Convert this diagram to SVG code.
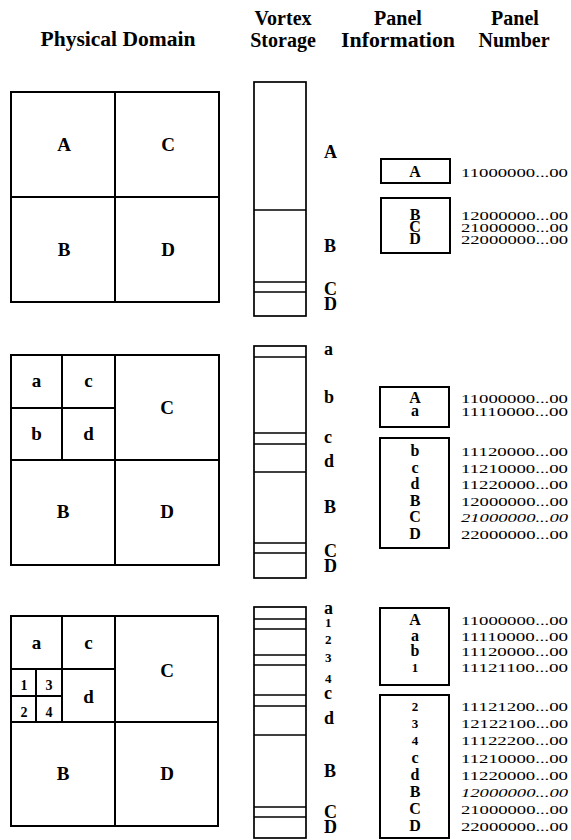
<svg xmlns="http://www.w3.org/2000/svg" width="571" height="840" viewBox="0 0 571 840">
<style>
.ln{fill:none;stroke:#000;stroke-width:2}
.cl{fill:none;stroke:#000;stroke-width:1.7}
text{font-family:"Liberation Serif","Times New Roman",serif;fill:#000}
.h{font-weight:bold;font-size:20px;text-anchor:middle}
.L{font-weight:bold;font-size:19px;text-anchor:middle}
.s{font-weight:bold;font-size:14px;text-anchor:middle}
.v{font-weight:bold;font-size:18px}
.vs{font-weight:bold;font-size:13px}
.p{font-weight:bold;font-size:16px;text-anchor:middle}
.ps{font-weight:bold;font-size:13px;text-anchor:middle}
.n{font-size:12.5px}
.i{font-style:italic}
</style>
<rect width="571" height="840" fill="#fff"/>

<g id="header">
<text class="h" x="118" y="46" textLength="155" lengthAdjust="spacingAndGlyphs">Physical Domain</text>
<text class="h" x="283" y="25">Vortex</text>
<text class="h" x="283" y="47">Storage</text>
<text class="h" x="398" y="25">Panel</text>
<text class="h" x="398" y="47" textLength="114" lengthAdjust="spacingAndGlyphs">Information</text>
<text class="h" x="515" y="25">Panel</text>
<text class="h" x="514" y="47">Number</text>
</g>

<!-- Section 1 -->
<g id="domain1">
<rect class="ln" x="11" y="92" width="208" height="210"/>
<line class="ln" x1="115" y1="92" x2="115" y2="302"/>
<line class="ln" x1="11" y1="197" x2="219" y2="197"/>
<text class="L" x="64" y="151">A</text>
<text class="L" x="168" y="151">C</text>
<text class="L" x="64" y="256">B</text>
<text class="L" x="168" y="256">D</text>
</g>
<g id="storage1">
<rect class="cl" x="254" y="82" width="52" height="234"/>
<line class="cl" x1="254" y1="210" x2="306" y2="210"/>
<line class="cl" x1="254" y1="282" x2="306" y2="282"/>
<line class="cl" x1="254" y1="292" x2="306" y2="292"/>
<text class="v" x="324" y="158">A</text>
<text class="v" x="324" y="252">B</text>
<text class="v" x="324" y="295">C</text>
<text class="v" x="324" y="310">D</text>
</g>
<g id="panel1a">
<rect class="ln" x="381" y="159" width="69" height="24"/>
<text class="p" x="415" y="177">A</text>
</g>
<g id="panel1b">
<rect class="ln" x="381" y="198" width="69" height="55"/>
<text class="p" x="415" y="220">B</text>
<text class="p" x="415" y="232">C</text>
<text class="p" x="415" y="244">D</text>
</g>
<g id="numbers1">
<text class="n" x="461" y="177" textLength="107" lengthAdjust="spacingAndGlyphs">11000000...00</text>
<text class="n" x="461" y="220" textLength="107" lengthAdjust="spacingAndGlyphs">12000000...00</text>
<text class="n" x="461" y="232" textLength="107" lengthAdjust="spacingAndGlyphs">21000000...00</text>
<text class="n" x="461" y="244" textLength="107" lengthAdjust="spacingAndGlyphs">22000000...00</text>
</g>

<!-- Section 2 -->
<g id="domain2">
<rect class="ln" x="11" y="355" width="208" height="210"/>
<line class="ln" x1="115" y1="355" x2="115" y2="565"/>
<line class="ln" x1="11" y1="460" x2="219" y2="460"/>
<line class="ln" x1="62" y1="355" x2="62" y2="460"/>
<line class="ln" x1="11" y1="408" x2="115" y2="408"/>
<text class="L" x="36.5" y="387">a</text>
<text class="L" x="88.5" y="387">c</text>
<text class="L" x="36.5" y="440">b</text>
<text class="L" x="88.5" y="440">d</text>
<text class="L" x="167" y="414">C</text>
<text class="L" x="63" y="518">B</text>
<text class="L" x="167" y="518">D</text>
</g>
<g id="storage2">
<rect class="cl" x="254" y="346" width="52" height="232"/>
<line class="cl" x1="254" y1="357" x2="306" y2="357"/>
<line class="cl" x1="254" y1="433" x2="306" y2="433"/>
<line class="cl" x1="254" y1="444" x2="306" y2="444"/>
<line class="cl" x1="254" y1="472" x2="306" y2="472"/>
<line class="cl" x1="254" y1="543" x2="306" y2="543"/>
<line class="cl" x1="254" y1="553" x2="306" y2="553"/>
<text class="v" x="324" y="355">a</text>
<text class="v" x="324" y="403">b</text>
<text class="v" x="324" y="443">c</text>
<text class="v" x="324" y="467">d</text>
<text class="v" x="324" y="513">B</text>
<text class="v" x="324" y="557">C</text>
<text class="v" x="324" y="572">D</text>
</g>
<g id="panel2a">
<rect class="ln" x="380" y="387" width="69" height="40"/>
<text class="p" x="415" y="403">A</text>
<text class="p" x="415" y="416">a</text>
</g>
<g id="panel2b">
<rect class="ln" x="380" y="438" width="69" height="110"/>
<text class="p" x="415" y="456">b</text>
<text class="p" x="415" y="472.5">c</text>
<text class="p" x="415" y="489">d</text>
<text class="p" x="415" y="505.5">B</text>
<text class="p" x="415" y="522">C</text>
<text class="p" x="415" y="538.5">D</text>
</g>
<g id="numbers2">
<text class="n" x="461" y="403" textLength="107" lengthAdjust="spacingAndGlyphs">11000000...00</text>
<text class="n" x="461" y="416" textLength="107" lengthAdjust="spacingAndGlyphs">11110000...00</text>
<text class="n" x="461" y="456" textLength="107" lengthAdjust="spacingAndGlyphs">11120000...00</text>
<text class="n" x="461" y="472.5" textLength="107" lengthAdjust="spacingAndGlyphs">11210000...00</text>
<text class="n" x="461" y="489" textLength="107" lengthAdjust="spacingAndGlyphs">11220000...00</text>
<text class="n" x="461" y="505.5" textLength="107" lengthAdjust="spacingAndGlyphs">12000000...00</text>
<text class="n i" x="461" y="522" textLength="107" lengthAdjust="spacingAndGlyphs">21000000...00</text>
<text class="n" x="461" y="538.5" textLength="107" lengthAdjust="spacingAndGlyphs">22000000...00</text>
</g>

<!-- Section 3 -->
<g id="domain3">
<rect class="ln" x="11" y="616" width="207" height="210"/>
<line class="ln" x1="115" y1="616" x2="115" y2="826"/>
<line class="ln" x1="11" y1="722" x2="218" y2="722"/>
<line class="ln" x1="62" y1="616" x2="62" y2="722"/>
<line class="ln" x1="11" y1="669" x2="115" y2="669"/>
<line class="ln" x1="36" y1="669" x2="36" y2="722"/>
<line class="ln" x1="11" y1="696" x2="62" y2="696"/>
<text class="L" x="36.5" y="649">a</text>
<text class="L" x="88.5" y="649">c</text>
<text class="L" x="167" y="677">C</text>
<text class="L" x="88.5" y="703">d</text>
<text class="s" x="24" y="690">1</text>
<text class="s" x="49" y="690">3</text>
<text class="s" x="24" y="717">2</text>
<text class="s" x="49" y="717">4</text>
<text class="L" x="63" y="780">B</text>
<text class="L" x="167" y="780">D</text>
</g>
<g id="storage3">
<rect class="cl" x="254" y="607" width="52" height="231"/>
<line class="cl" x1="254" y1="619" x2="306" y2="619"/>
<line class="cl" x1="254" y1="629" x2="306" y2="629"/>
<line class="cl" x1="254" y1="655" x2="306" y2="655"/>
<line class="cl" x1="254" y1="665" x2="306" y2="665"/>
<line class="cl" x1="254" y1="695" x2="306" y2="695"/>
<line class="cl" x1="254" y1="706" x2="306" y2="706"/>
<line class="cl" x1="254" y1="735" x2="306" y2="735"/>
<line class="cl" x1="254" y1="807" x2="306" y2="807"/>
<line class="cl" x1="254" y1="817" x2="306" y2="817"/>
<text class="v" x="324" y="614">a</text>
<text class="vs" x="325" y="627">1</text>
<text class="vs" x="325" y="644">2</text>
<text class="vs" x="325" y="662">3</text>
<text class="vs" x="325" y="683">4</text>
<text class="v" x="324" y="699">c</text>
<text class="v" x="324" y="724">d</text>
<text class="v" x="324" y="777">B</text>
<text class="v" x="324" y="818">C</text>
<text class="v" x="324" y="833">D</text>
</g>
<g id="panel3a">
<rect class="ln" x="380" y="608" width="69" height="77"/>
<text class="p" x="415" y="625">A</text>
<text class="p" x="415" y="640.5">a</text>
<text class="p" x="415" y="656">b</text>
<text class="ps" x="415" y="671.5">1</text>
</g>
<g id="panel3b">
<rect class="ln" x="380" y="695" width="69" height="143"/>
<text class="ps" x="415" y="711">2</text>
<text class="ps" x="415" y="728">3</text>
<text class="ps" x="415" y="745">4</text>
<text class="p" x="415" y="763">c</text>
<text class="p" x="415" y="780">d</text>
<text class="p" x="415" y="797">B</text>
<text class="p" x="415" y="814">C</text>
<text class="p" x="415" y="831">D</text>
</g>
<g id="numbers3">
<text class="n" x="461" y="625" textLength="107" lengthAdjust="spacingAndGlyphs">11000000...00</text>
<text class="n" x="461" y="640.5" textLength="107" lengthAdjust="spacingAndGlyphs">11110000...00</text>
<text class="n" x="461" y="656" textLength="107" lengthAdjust="spacingAndGlyphs">11120000...00</text>
<text class="n" x="461" y="671.5" textLength="107" lengthAdjust="spacingAndGlyphs">11121100...00</text>
<text class="n" x="461" y="711" textLength="107" lengthAdjust="spacingAndGlyphs">11121200...00</text>
<text class="n" x="461" y="728" textLength="107" lengthAdjust="spacingAndGlyphs">12122100...00</text>
<text class="n" x="461" y="745" textLength="107" lengthAdjust="spacingAndGlyphs">11122200...00</text>
<text class="n" x="461" y="763" textLength="107" lengthAdjust="spacingAndGlyphs">11210000...00</text>
<text class="n" x="461" y="780" textLength="107" lengthAdjust="spacingAndGlyphs">11220000...00</text>
<text class="n i" x="461" y="797" textLength="107" lengthAdjust="spacingAndGlyphs">12000000...00</text>
<text class="n" x="461" y="814" textLength="107" lengthAdjust="spacingAndGlyphs">21000000...00</text>
<text class="n" x="461" y="831" textLength="107" lengthAdjust="spacingAndGlyphs">22000000...00</text>
</g>
</svg>
